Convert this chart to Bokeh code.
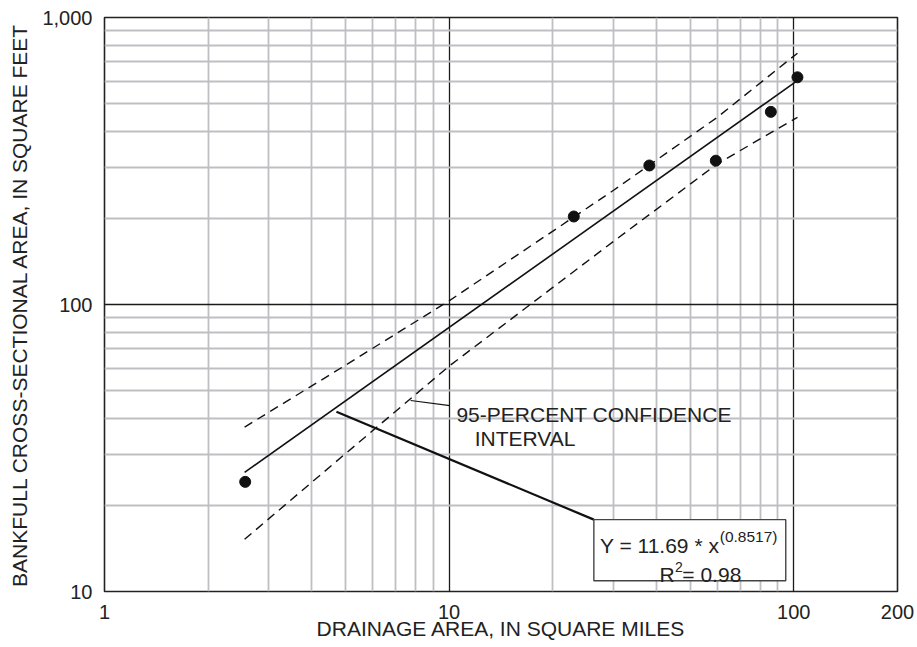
from bokeh.plotting import figure
from bokeh.models import Range1d, FixedTicker
from bokeh.core.properties import value
from bokeh.embed import file_html
from bokeh.resources import INLINE

# ---- data ----
drainage_area = [2.56, 23.0, 38.1, 59.4, 85.8, 102.5]
xsec_area = [24.1, 202.6, 305, 317, 469, 619]

fit_x = [2.55, 101.0]
fit_y = [26.0, 595.0]

band_x = [2.55, 5, 10, 30, 60, 102.5]
band_upper = [37.4, 61.4, 103, 250, 449, 751]
band_lower = [15.2, 30.2, 61, 166, 309, 449]

x_ticks = [1, 10, 100, 200]
x_minor = [2, 3, 4, 5, 6, 7, 8, 9, 20, 30, 40, 50, 60, 70, 80, 90]
y_ticks = [10, 100, 1000]
y_minor = [20, 30, 40, 50, 60, 70, 80, 90, 200, 300, 400, 500, 600, 700, 800, 900]
y_tick_labels = {10: "10", 100: "100", 1000: "1,000"}

# annotation geometry (data coordinates)
conf_leader_x = [7.73, 10.05]
conf_leader_y = [46.3, 44.4]
eq_leader_x = [4.71, 26.3]
eq_leader_y = [42.3, 17.8]
box_lrbt = [26.3, 94.8, 10.9, 17.8]

FONT = "Liberation Sans"
TXT = "#222222"

p = figure(width=917, height=647, x_axis_type="log", y_axis_type="log",
           x_range=Range1d(1, 200), y_range=Range1d(10, 1000),
           output_backend="svg", toolbar_location=None,
           min_border_left=104, min_border_right=20, min_border_top=17,
           min_border_bottom=56, background_fill_color="white",
           border_fill_color="white")

p.outline_line_color = "#222222"
p.outline_line_width = 1.6

p.xaxis.ticker = FixedTicker(ticks=x_ticks, minor_ticks=x_minor)
p.yaxis.ticker = FixedTicker(ticks=y_ticks, minor_ticks=y_minor)
p.xaxis.major_label_overrides = {1: "1", 10: "10", 100: "100", 200: "200"}
p.yaxis.major_label_overrides = y_tick_labels

for ax in (p.xaxis[0], p.yaxis[0]):
    ax.axis_line_color = None
    ax.major_tick_line_color = None
    ax.minor_tick_line_color = None
    ax.major_tick_out = 0
    ax.major_tick_in = 0
    ax.minor_tick_out = 0
    ax.minor_tick_in = 0
    ax.major_label_text_font = FONT
    ax.major_label_text_font_size = "20px"
    ax.major_label_text_color = TXT
    ax.axis_label_text_font = FONT
    ax.axis_label_text_font_size = "21px"
    ax.axis_label_text_font_style = "normal"
    ax.axis_label_text_color = TXT

p.xaxis.axis_label = "DRAINAGE AREA, IN SQUARE MILES"
p.yaxis.axis_label = "BANKFULL CROSS-SECTIONAL AREA, IN SQUARE FEET"
p.xaxis.major_label_standoff = 13
p.xaxis.axis_label_standoff = -5
p.yaxis.major_label_standoff = 12
p.yaxis.axis_label_standoff = 8

for g in (p.xgrid[0], p.ygrid[0]):
    g.grid_line_color = "#1a1a1a"
    g.grid_line_width = 1.3
    g.minor_grid_line_color = "#bfbfc3"
    g.minor_grid_line_width = 1.8

# confidence bands
p.line(band_x, band_upper, line_color="#111111", line_width=1.4, line_dash="9 6")
p.line(band_x, band_lower, line_color="#111111", line_width=1.4, line_dash="9 6")
# regression line
p.line(fit_x, fit_y, line_color="#111111", line_width=1.6)
# observed data
p.scatter(drainage_area, xsec_area, size=11, marker="circle",
          fill_color="#111111", line_color="#111111")

# leader lines
p.line(conf_leader_x, conf_leader_y, line_color="#111111", line_width=1.2)
p.line(eq_leader_x, eq_leader_y, line_color="#111111", line_width=2.2)

# equation box
p.quad(left=[box_lrbt[0]], right=[box_lrbt[1]], bottom=[box_lrbt[2]], top=[box_lrbt[3]],
       fill_color="white", line_color="#444444", line_width=1.4)

def txt(x, y, s, size="21px", align="left"):
    p.text(x=[x], y=[y], text=[s], text_font=value(FONT), text_font_size=value(size),
           text_color=TXT, text_align=align, text_baseline="alphabetic")

txt(10.5, 41.3, "95-PERCENT CONFIDENCE")
txt(11.86, 34.1, "INTERVAL")
txt(27.4, 14.5, "Y = 11.69 * x")
txt(61.0, 15.6, "(0.8517)", size="15.5px")
txt(40.8, 11.46, "R")
txt(45.2, 12.22, "2", size="14px")
txt(47.5, 11.46, "= 0.98")

open("out.html", "w").write(file_html(p, INLINE))
